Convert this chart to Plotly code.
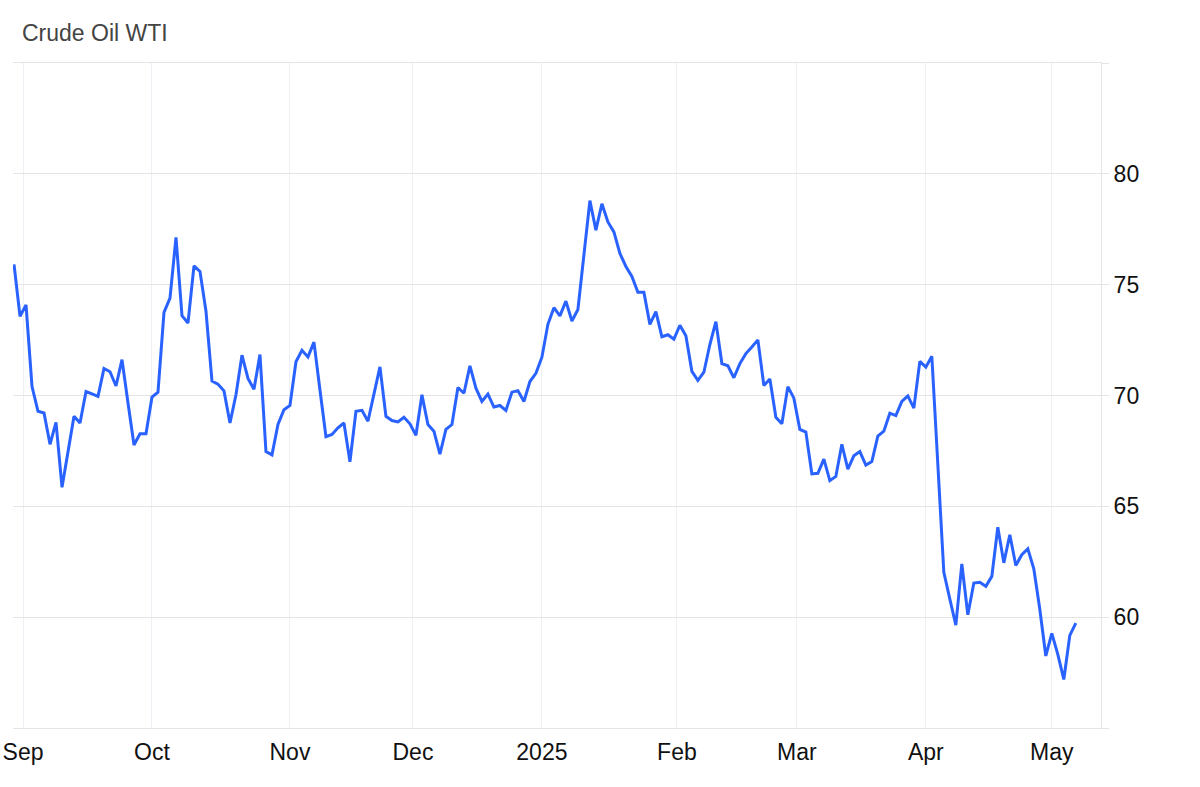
import plotly.graph_objects as go
import pandas as pd

# Daily WTI prices (USD/bbl)
title = 'Crude Oil WTI'
start_date = '2024-08-29'
end_date = '2025-05-07'
closed_days = ['2024-12-25', '2025-04-18']  # no quote on these weekdays

prices = [
    75.91, 73.57, 74.09, 70.40, 69.29, 69.21, 67.80, 68.79, 65.86, 67.40,
    69.06, 68.76, 70.18, 70.07, 69.96, 71.22, 71.07, 70.43, 71.62, 69.66,
    67.77, 68.27, 68.27, 69.93, 70.15, 73.75, 74.39, 77.13, 73.60, 73.27,
    75.85, 75.60, 73.80,
    70.65, 70.51, 70.21, 68.76, 70.03, 71.82, 70.77, 70.28, 71.85, 67.47,
    67.32, 68.69, 69.36, 69.55, 71.52, 72.04, 71.74, 72.41, 70.25, 68.14,
    68.24, 68.54, 68.76, 67.01, 69.29, 69.33,
    68.84, 70.06, 71.29, 69.06, 68.87, 68.81, 69.02, 68.72, 68.21, 70.03,
    68.69, 68.39, 67.35, 68.47, 68.69, 70.36, 70.10, 71.34, 70.33, 69.73,
    70.06, 69.48, 69.55, 69.33, 70.15, 70.22, 69.73, 70.63, 71.00,
    71.73, 73.21, 73.96, 73.59, 74.26, 73.36, 73.88, 76.41, 78.79, 77.46,
    78.65, 77.83, 77.38, 76.41, 75.82, 75.37, 74.66, 74.66, 73.21, 73.78,
    72.65, 72.74, 72.54, 73.17, 72.69, 71.09, 70.68, 71.05, 72.30,
    73.33, 71.44, 71.34, 70.80, 71.44, 71.89, 72.19, 72.51, 70.45, 70.74,
    69.02, 68.72, 70.40, 69.88, 68.47, 68.35, 66.46, 66.49, 67.13, 66.16,
    66.35, 67.80, 66.68, 67.28, 67.47, 66.86, 67.02, 68.17, 68.39,
    69.20, 69.09, 69.73, 69.98, 69.43, 71.54, 71.28, 71.77, 66.86, 62.02,
    60.82, 59.64, 62.40, 60.11, 61.54, 61.57, 61.39, 61.84, 64.06, 62.45,
    63.72, 62.33, 62.82, 63.08, 62.18, 60.36, 58.25, 59.27, 58.32, 57.19,
    59.18, 59.73,
]

month_labels = ['Sep', 'Oct', 'Nov', 'Dec', '2025', 'Feb', 'Mar', 'Apr', 'May']
y_ticks = [55, 60, 65, 70, 75, 80, 85]
y_labels = ['', '60', '65', '70', '75', '80', '']

# trading days -> category labels
days = pd.bdate_range(start_date, end_date)
days = days[~days.isin(pd.to_datetime(closed_days))]
dates = [d.strftime('%Y-%m-%d') for d in days]

# month boundary ticks: on the 1st if it is quoted, otherwise halfway
# between the last quote of the old month and the first of the new one
month_ticks = []
months = pd.period_range(days[0].to_period('M') + 1, days[-1].to_period('M'), freq='M')
for m in months:
    first = m.start_time
    pos = int((days < first).sum())
    if days[pos] != first:
        pos -= 0.5
    month_ticks.append(pos)

line_color = '#2962FF'
grid_h = '#e4e4e4'
grid_v = '#edf1f6'

fig = go.Figure()
fig.add_trace(go.Scatter(
    x=dates,
    y=prices[:len(dates)],
    mode='lines',
    line=dict(color=line_color, width=3),
    hovertemplate='%{x}<br>%{y:.2f}<extra></extra>',
    showlegend=False
))

fig.update_layout(
    width=1200,
    height=787,
    plot_bgcolor='white',
    paper_bgcolor='white',
    margin=dict(l=13, r=99, t=63, b=59),
    font=dict(family='Liberation Sans, Arial, sans-serif', size=24, color='#111111'),
    title=dict(
        text=title,
        xref='container', yref='container',
        x=22 / 1200, y=1 - 33 / 787,
        xanchor='left', yanchor='middle',
        font=dict(size=23, color='#444444')
    ),
)

fig.update_xaxes(
    type='category',
    range=[-0.17, 181.2],
    tickmode='array',
    tickvals=month_ticks,
    ticktext=month_labels,
    showgrid=True,
    gridcolor=grid_v,
    gridwidth=1,
    showline=True,
    mirror=True,
    linecolor=grid_h,
    linewidth=1,
    ticks='',
    ticklabelstandoff=3,
    zeroline=False,
    automargin=False,
    tickfont=dict(size=23, color='#111111'),
)

fig.update_yaxes(
    side='right',
    range=[55, 85],
    tickmode='array',
    tickvals=y_ticks,
    ticktext=y_labels,
    showgrid=True,
    gridcolor=grid_h,
    gridwidth=1,
    showline=True,
    linecolor=grid_h,
    linewidth=1,
    ticks='outside',
    ticklen=7,
    tickcolor=grid_h,
    zeroline=False,
    automargin=False,
    tickfont=dict(size=23, color='#111111'),
)

# page body has a default 8px margin; drop it so the figure sits at (0, 0)
fig.write_html(
    'out.html',
    config={'displayModeBar': False},
    post_script="document.body.style.margin = '0';",
)
